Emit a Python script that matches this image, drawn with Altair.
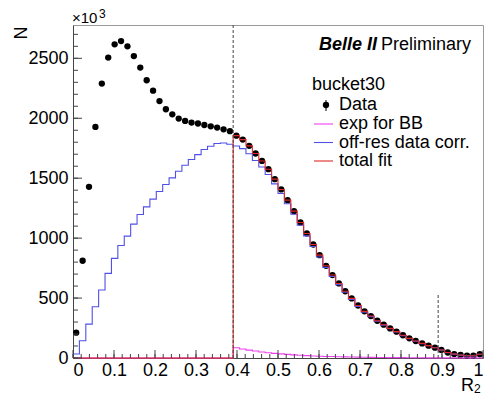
import altair as alt
import pandas as pd

# R2 histogram: 64 equal bins on [0, 1]
N_BINS = 64
FIT_START_BIN = 25          # fit range begins at R2 = 25/64
SIDE_CUT_BIN = 57           # second cut at R2 = 57/64
SIDE_CUT_HEIGHT = 540       # height of the short cut marker (N)

data_counts = [211, 811, 1428, 1928, 2289, 2506, 2617, 2644, 2600, 2519,
               2423, 2317, 2230, 2143, 2075, 2033, 1997, 1978, 1964, 1956,
               1944, 1933, 1922, 1908, 1892, 1855, 1822, 1770, 1706, 1644,
               1575, 1492, 1406, 1317, 1225, 1131, 1039, 947, 858, 769,
               692, 622, 557, 497, 438, 389, 350, 311, 278, 247,
               220, 190, 164, 142, 122, 103, 86, 67, 46, 33,
               25, 19, 19, 31]

offres_counts = [33, 144, 283, 428, 567, 706, 831, 939, 1017, 1117,
                 1197, 1261, 1325, 1389, 1447, 1503, 1558, 1608, 1656, 1697,
                 1739, 1767, 1789, 1794, 1783, 1769, 1747, 1704, 1648, 1594,
                 1531, 1453, 1372, 1287, 1199, 1108, 1019, 930, 843, 756,
                 680, 612, 548, 489, 431, 383, 345, 307, 274, 244,
                 217, 187, 162, 140, 120, 102, 85, 66, 45, 32,
                 24, 18, 18, 31]

exp_bb_counts = [0, 0, 0, 0, 0, 0, 0, 0, 0, 0,
                 0, 0, 0, 0, 0, 0, 0, 0, 0, 0,
                 0, 0, 0, 0, 0, 86, 75, 66, 58, 50,
                 44, 39, 34, 30, 26, 23, 20, 17, 15, 13,
                 12, 10, 9, 8, 7, 6, 5, 4, 4, 3,
                 3, 3, 2, 2, 2, 1, 1, 1, 1, 1,
                 1, 1, 1, 0]

total_fit_counts = [0, 0, 0, 0, 0, 0, 0, 0, 0, 0,
                    0, 0, 0, 0, 0, 0, 0, 0, 0, 0,
                    0, 0, 0, 0, 0, 1855, 1822, 1770, 1706, 1644,
                    1575, 1492, 1406, 1317, 1225, 1131, 1039, 947, 858, 769,
                    692, 622, 557, 497, 438, 389, 350, 311, 278, 247,
                    220, 190, 164, 142, 122, 103, 86, 67, 46, 33,
                    25, 19, 19, 31]

x_tick_labels = [0, 0.1, 0.2, 0.3, 0.4, 0.5, 0.6, 0.7, 0.8, 0.9, 1.0]
y_tick_labels = [0, 500, 1000, 1500, 2000, 2500]
Y_MAX = 2778

FONT = "Liberation Sans"
W, H = 410, 333

BLUE = "#5050e8"
MAGENTA = "#f040f0"
RED = "#e02828"

x_scale = alt.Scale(domain=[0, 1], nice=False, zero=False)
y_scale = alt.Scale(domain=[0, Y_MAX], nice=False)

# axes carry labels only; inner ticks are drawn as rules below
x_axis = alt.Axis(values=x_tick_labels, format=".1~f", ticks=False,
                  tickSize=0, labelPadding=3, grid=False, title=None,
                  labelFontSize=18, labelFont=FONT, labelColor="black",
                  domainColor="#444", labelOverlap=False, labelFlush=True)
y_axis = alt.Axis(values=y_tick_labels, format="d", ticks=False, tickSize=0,
                  labelPadding=5, grid=False, title=None, labelFontSize=18,
                  labelFont=FONT, labelColor="black", domainColor="#444",
                  labelOverlap=False)

base_x = alt.X("r2:Q", scale=x_scale, axis=x_axis)
base_y = alt.Y("n:Q", scale=y_scale, axis=y_axis)


def step_frame(counts):
    edges = [k / N_BINS for k in range(N_BINS)] + [1.0]
    vals = list(counts) + [counts[-1]]
    return pd.DataFrame({"r2": edges, "n": vals})


points_df = pd.DataFrame({
    "r2": [(k + 0.5) / N_BINS for k in range(N_BINS)],
    "n": data_counts,
})

points = alt.Chart(points_df).mark_circle(size=40, color="black", opacity=1).encode(
    x=base_x, y=base_y)


def step_line(counts, color):
    return alt.Chart(step_frame(counts)).mark_line(
        interpolate="step-after", color=color, strokeWidth=1.1).encode(
        x=base_x, y=base_y)


offres_line = step_line(offres_counts, BLUE)
exp_line = step_line(exp_bb_counts, MAGENTA)
total_line = step_line(total_fit_counts, RED)

cuts_df = pd.DataFrame({
    "r2": [FIT_START_BIN / N_BINS, SIDE_CUT_BIN / N_BINS],
    "n": [0, 0],
    "n_top": [Y_MAX, SIDE_CUT_HEIGHT],
})
cuts = alt.Chart(cuts_df).mark_rule(color="#444", strokeDash=[3, 2], strokeWidth=1).encode(
    x=base_x, y=base_y, y2="n_top:Q")

# inner tick marks (ROOT style)
y_minor = alt.Chart(pd.DataFrame({"n": list(range(0, Y_MAX, 100))})).mark_rule(
    color="#444").encode(y=base_y, x=alt.value(0), x2=alt.value(5))
y_major = alt.Chart(pd.DataFrame({"n": y_tick_labels})).mark_rule(
    color="#444").encode(y=base_y, x=alt.value(0), x2=alt.value(9))
x_minor = alt.Chart(pd.DataFrame({"r2": [k / 50 for k in range(51)]})).mark_rule(
    color="#444").encode(x=base_x, y=alt.value(H), y2=alt.value(H - 4))
x_major = alt.Chart(pd.DataFrame({"r2": x_tick_labels})).mark_rule(
    color="#444").encode(x=base_x, y=alt.value(H), y2=alt.value(H - 8))


def label(text, x, y, size=18, align="left", baseline="alphabetic",
          weight="normal", style="normal", angle=0, color="black"):
    return alt.Chart(pd.DataFrame({"t": [text]})).mark_text(
        align=align, baseline=baseline, fontSize=size, font=FONT,
        fontWeight=weight, fontStyle=style, angle=angle, color=color).encode(
        x=alt.value(x), y=alt.value(y), text="t:N")


texts = [
    label("N", -51, 8, size=18, align="center", baseline="middle", angle=270),
    label("\u00d710", -1, -2, size=15),
    label("3", 26, -7, size=12),
    label("R", 388, 366, size=18),
    label("2", 401, 368, size=12),
    label("Belle II", 304, 25, weight="bold", style="italic", align="right"),
    label("Preliminary", 308, 25),
    label("bucket30", 239, 65),
    label("Data", 266, 85),
    label("exp for BB", 266, 104),
    label("off-res data corr.", 266, 122.5),
    label("total fit", 266, 141),
]

legend_marks = [
    alt.Chart(pd.DataFrame({"t": [0]})).mark_circle(size=40, color="black", opacity=1).encode(
        x=alt.value(253), y=alt.value(80)),
    alt.Chart(pd.DataFrame({"t": [0]})).mark_rule(color="black").encode(
        x=alt.value(253), y=alt.value(75), y2=alt.value(86)),
]
for color, yy in [(MAGENTA, 99), (BLUE, 117.5), (RED, 136)]:
    legend_marks.append(
        alt.Chart(pd.DataFrame({"t": [0]})).mark_rule(color=color, strokeWidth=1.1).encode(
            x=alt.value(241), x2=alt.value(260), y=alt.value(yy)))

chart = alt.layer(
    points, offres_line, exp_line, total_line, cuts,
    y_minor, y_major, x_minor, x_major, *texts, *legend_marks,
).properties(
    width=W, height=H,
    autosize=alt.AutoSizeParams(type="none"),
    padding={"left": 73, "top": 25, "right": 1, "bottom": 37},
    background="white",
).configure_view(stroke="#999", strokeWidth=1)

chart.save("out.html", embed_options={"renderer": "svg", "actions": False})
